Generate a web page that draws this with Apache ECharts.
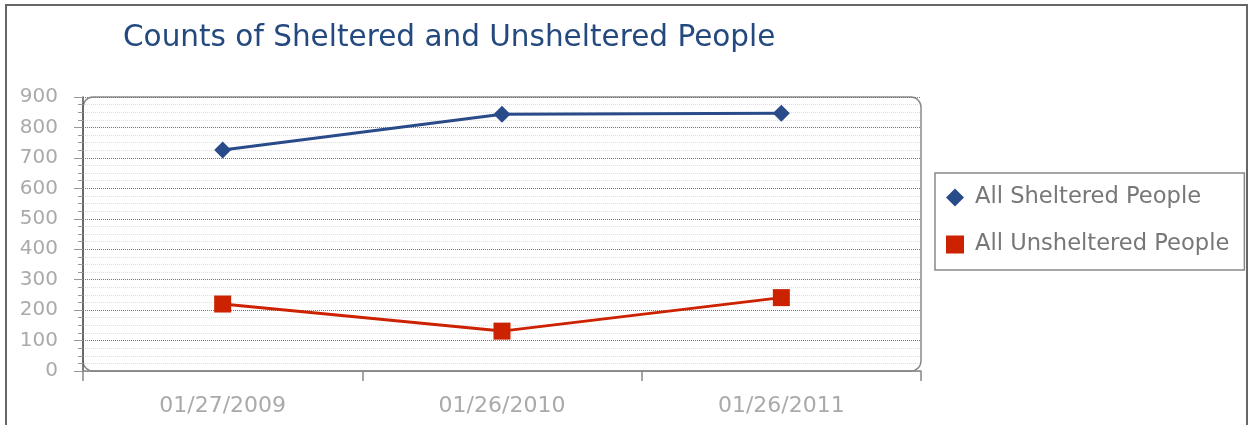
<!DOCTYPE html>
<html>
<head>
<meta charset="utf-8">
<script src="https://cdn.jsdelivr.net/npm/echarts@6/dist/echarts.min.js"></script>
<style>
html,body{margin:0;padding:0;background:#fff;}
#chart{width:1251px;height:425px;}
</style>
</head>
<body>
<div id="chart"></div>
<script>
const categories = ['01/27/2009', '01/26/2010', '01/26/2011'];
const shelteredValues = [726, 843, 847];
const unshelteredValues = [220, 131, 241];
const seriesNames = ['All Sheltered People', 'All Unsheltered People'];
const chartTitle = 'Counts of Sheltered and Unsheltered People';

const GRID = {left: 83, top: 97, right: 330, bottom: 54};
const FONT = '"DejaVu Sans", Verdana, sans-serif';

const chart = echarts.init(document.getElementById('chart'));
chart.setOption({
  animation: false,
  backgroundColor: '#fff',
  title: {
    text: chartTitle,
    left: 118, top: 18,
    textStyle: {fontFamily: FONT, fontSize: 29.5, fontWeight: 'normal', color: '#24497f'}
  },
  graphic: [
    {type: 'rect', shape: {x: 6, y: 5, width: 1241, height: 440}, style: {fill: 'none', stroke: '#666', lineWidth: 2}, silent: true, z: 0},
    {type: 'rect', shape: {x: GRID.left, y: GRID.top, width: 1251 - GRID.left - GRID.right, height: 425 - GRID.top - GRID.bottom, r: 10}, style: {fill: 'none', stroke: '#8a8a8a', lineWidth: 1.5}, silent: true, z: 0}
  ],
  legend: {
    orient: 'vertical',
    left: 935, top: 173,
    padding: [13, 15, 14, 11],
    itemGap: 24,
    itemWidth: 18, itemHeight: 18,
    borderColor: '#888', borderWidth: 1.5,
    textStyle: {fontFamily: FONT, fontSize: 22.6, color: '#777', padding: [0, 0, 0, 6]},
    data: [
      {name: seriesNames[0], icon: 'diamond'},
      {name: seriesNames[1], icon: 'rect'}
    ]
  },
  grid: GRID,
  xAxis: {
    type: 'category',
    data: categories,
    boundaryGap: true,
    axisLine: {lineStyle: {color: '#888', width: 1.5}},
    axisTick: {show: true, length: 10, lineStyle: {color: '#888', width: 1.5}},
    axisLabel: {margin: 24, fontFamily: FONT, fontSize: 22, color: '#aaa'}
  },
  yAxis: {
    type: 'value',
    min: 0, max: 900, interval: 100,
    axisLine: {show: true, lineStyle: {color: '#555', width: 1.5}},
    axisTick: {show: true, length: 9, lineStyle: {color: '#999'}},
    minorTick: {show: true, splitNumber: 4, length: 5, lineStyle: {color: '#999'}},
    axisLabel: {margin: 25, fontFamily: FONT, fontSize: 20, color: '#aaa'},
    splitLine: {show: true, lineStyle: {color: '#777', type: 'dotted', width: 1}},
    minorSplitLine: {show: true, lineStyle: {color: '#ddd', type: 'dotted', width: 1}}
  },
  series: [
    {
      name: seriesNames[0], type: 'line', data: shelteredValues,
      symbol: 'diamond', symbolSize: 17,
      itemStyle: {color: '#2a4b8a'},
      lineStyle: {color: '#2a4b8a', width: 3}
    },
    {
      name: seriesNames[1], type: 'line', data: unshelteredValues,
      symbol: 'rect', symbolSize: 17,
      itemStyle: {color: '#cc2200'},
      lineStyle: {color: '#cc2200', width: 3}
    }
  ]
});
</script>
</body>
</html>
